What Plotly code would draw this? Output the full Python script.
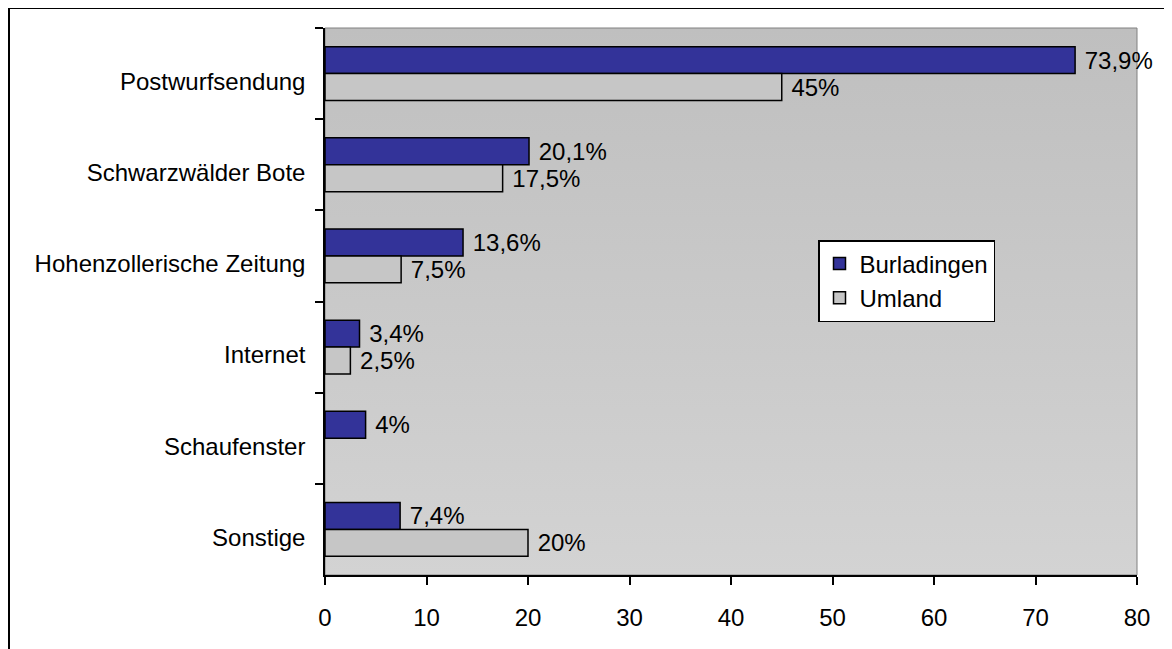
import plotly.graph_objects as go
import base64

categories = ["Postwurfsendung", "Schwarzwälder Bote", "Hohenzollerische Zeitung",
              "Internet", "Schaufenster", "Sonstige"]
burladingen = [73.9, 20.1, 13.6, 3.4, 4.0, 7.4]
umland = [45.0, 17.5, 7.5, 2.5, None, 20.0]
burl_labels = ["73,9%", "20,1%", "13,6%", "3,4%", "4%", "7,4%"]
uml_labels = ["45%", "17,5%", "7,5%", "2,5%", "", "20%"]
x_ticks = [0, 10, 20, 30, 40, 50, 60, 70, 80]

OFF = 8  # page body margin
W, H = 1172 - OFF, 649 - OFF
# plot area in page pixels
L, R, T, B = 325 - OFF, 1137 - OFF, 28 - OFF, 575 - OFF
FONT = "Liberation Sans, Arial, sans-serif"
FS = 24

def px_x(p):
    return (p - OFF - L) / (R - L)

def px_y(p):
    return (B - (p - OFF)) / (B - T)

svg = ('<svg xmlns="http://www.w3.org/2000/svg" width="100" height="100" preserveAspectRatio="none">'
       '<defs><linearGradient id="g" x1="0" y1="0" x2="0" y2="1">'
       '<stop offset="0" stop-color="#bfbfbf"/><stop offset="1" stop-color="#d3d3d3"/>'
       '</linearGradient></defs><rect width="100" height="100" fill="url(#g)"/></svg>')
bg_uri = "data:image/svg+xml;base64," + base64.b64encode(svg.encode()).decode()

fig = go.Figure()
fig.add_trace(go.Bar(
    name="Burladingen", y=categories, x=burladingen, orientation="h",
    text=[" " + t for t in burl_labels], textposition="outside",
    constraintext="none", cliponaxis=False,
    textfont=dict(family=FONT, size=FS, color="black"),
    marker=dict(color="#333399", line=dict(color="black", width=1.5)),
))
fig.add_trace(go.Bar(
    name="Umland", y=categories, x=umland, orientation="h",
    text=[" " + t if t else "" for t in uml_labels], textposition="outside",
    constraintext="none", cliponaxis=False,
    textfont=dict(family=FONT, size=FS, color="black"),
    marker=dict(color="#c6c6c6", line=dict(color="black", width=1.5)),
))

fig.update_layout(
    width=W, height=H,
    margin=dict(l=L, r=W - R, t=T, b=H - B, autoexpand=False),
    paper_bgcolor="white", plot_bgcolor="#c8c8c8",
    barmode="group", bargap=0.41, bargroupgap=0,
    font=dict(family=FONT, size=FS, color="black"),
    showlegend=True,
    legend=dict(x=px_x(818), y=px_y(240), xanchor="left", yanchor="top",
                bgcolor="white", bordercolor="black", borderwidth=1.5,
                font=dict(family=FONT, size=FS, color="black"),
                traceorder="normal", itemwidth=30, tracegroupgap=0),
    images=[dict(source=bg_uri, xref="paper", yref="paper", x=0, y=1,
                 sizex=1, sizey=1, sizing="stretch", layer="below",
                 xanchor="left", yanchor="top")],
    shapes=[
        dict(type="rect", xref="paper", yref="paper", x0=0, x1=1, y0=0, y1=1,
             line=dict(color="#808080", width=1), layer="below"),
        dict(type="rect", xref="paper", yref="paper",
             x0=px_x(9), x1=px_x(1168), y0=px_y(670), y1=px_y(8),
             line=dict(color="black", width=2), layer="above"),
    ],
)
fig.update_xaxes(
    range=[0, 80], tickvals=x_ticks, showgrid=False, zeroline=False,
    showline=True, linecolor="black", linewidth=1.5,
    ticks="outside", ticklen=8, tickcolor="black", tickwidth=1.5,
    ticklabelstandoff=12, tickfont=dict(family=FONT, size=FS, color="black"),
)
fig.update_yaxes(
    autorange="reversed", showgrid=False, zeroline=False,
    showline=True, linecolor="black", linewidth=1.5,
    ticks="outside", ticklen=8, tickcolor="black", tickwidth=1.5,
    tickson="boundaries", ticklabelstandoff=13, ticklabelshift=-8,
    tickfont=dict(family=FONT, size=FS, color="black"),
)

fig.write_html("out.html")
